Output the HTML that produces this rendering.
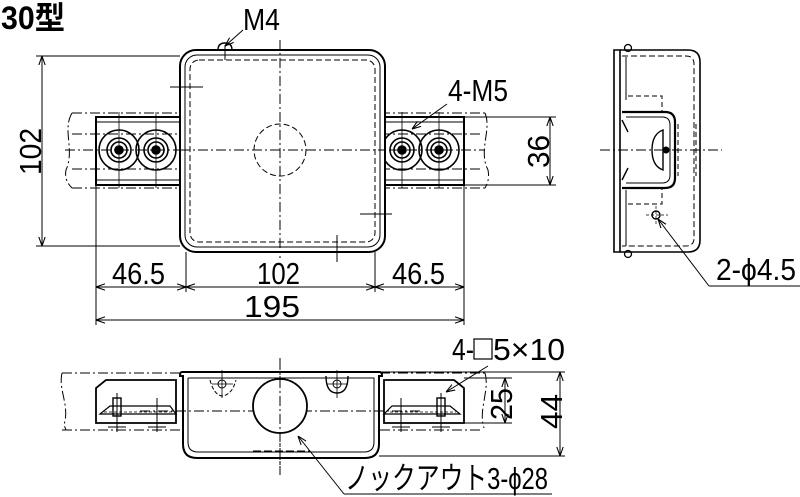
<!DOCTYPE html>
<html><head><meta charset="utf-8"><style>
html,body{margin:0;padding:0;background:#fff;}
svg{display:block}
text{font-family:"Liberation Sans","Noto Sans CJK JP",sans-serif;fill:#000}
</style></head><body>
<svg width="800" height="497" viewBox="0 0 800 497" xmlns="http://www.w3.org/2000/svg">
<defs>
<marker id="a" viewBox="0 0 10 10" refX="10" refY="5" markerWidth="9" markerHeight="9" orient="auto-start-reverse" markerUnits="userSpaceOnUse"><path d="M0,1.5 L10,5 L0,8.5" fill="none" stroke="#000" stroke-width="1.2"/></marker>
</defs>
<text x="1" y="29" font-size="32" font-weight="bold" textLength="64" lengthAdjust="spacingAndGlyphs">30型</text>

<g fill="none" stroke="#000">
<g stroke-width="1" stroke-dasharray="10,3,2,3">
<path d="M72,113 H180 M72,188 H180 M72,113 C62,130 75,150 66,170 C64,180 70,186 72,188"/>
<path d="M380,113 H485 M380,188 H485 M485,113 C492,130 478,150 488,170 C490,180 486,186 485,188"/>
<path d="M65,150 H485" />
<path d="M280,40 V258"/>
<path d="M72,134 H180 M72,169 H180 M380,134 H480 M380,169 H480"/>
</g>
<rect x="96" y="117" width="86" height="68" stroke-width="2"/>
<rect x="378" y="117" width="86" height="68" stroke-width="2"/>
<path d="M96,122 H180 M96,180 H180 M380,122 H464 M380,180 H464" stroke-width="1"/>
<g stroke-width="1.6">
<circle cx="119" cy="150" r="20"/><circle cx="119" cy="150" r="12"/><circle cx="119" cy="150" r="8"/><circle cx="119" cy="150" r="4" fill="#000"/>
<circle cx="156" cy="150" r="20"/><circle cx="156" cy="150" r="12"/><circle cx="156" cy="150" r="8"/><circle cx="156" cy="150" r="4" fill="#000"/>
<circle cx="402" cy="150" r="20"/><circle cx="402" cy="150" r="12"/><circle cx="402" cy="150" r="8"/><circle cx="402" cy="150" r="4" fill="#000"/>
<circle cx="439" cy="150" r="20"/><circle cx="439" cy="150" r="12"/><circle cx="439" cy="150" r="8"/><circle cx="439" cy="150" r="4" fill="#000"/>
</g>
<path d="M119,112 V188 M156,112 V188 M402,112 V188 M439,112 V188" stroke-width="0.8"/>
<rect x="180" y="50" width="205" height="202" rx="16" stroke-width="2" fill="#fff"/>
<rect x="185" y="55" width="195" height="192" rx="12" stroke-width="1"/>
<rect x="190" y="60" width="185" height="182" rx="9" stroke-width="1" stroke-dasharray="6,3"/>
<path d="M280,40 V258 M180,150 H385" stroke-width="1" stroke-dasharray="10,3,2,3"/>
<circle cx="280" cy="150" r="26" stroke-width="1" stroke-dasharray="6,3"/>
<path d="M170,87 H203 M360,214 H392 M337,235 V262 M225,45 V60" stroke-width="1"/>
<path d="M218,50 Q218,43 225,43 Q232,43 232,50" stroke-width="1.4"/>
<g stroke-width="1">
<path d="M36,56 H180 M36,246 H180"/>
<path d="M42,56 V246" marker-start="url(#a)" marker-end="url(#a)"/>
<path d="M464,117 H556 M464,185 H556"/>
<path d="M550,117 V185" marker-start="url(#a)" marker-end="url(#a)"/>
<path d="M96,185 V325 M186,252 V292 M375,252 V292 M464,185 V325"/>
<path d="M96,287 H186" marker-start="url(#a)" marker-end="url(#a)"/>
<path d="M186,287 H375" marker-start="url(#a)" marker-end="url(#a)"/>
<path d="M375,287 H464" marker-start="url(#a)" marker-end="url(#a)"/>
<path d="M96,320 H464" marker-start="url(#a)" marker-end="url(#a)"/>
<path d="M243,30 L225,46" marker-end="url(#a)"/>
<path d="M447,104 L412,129" marker-end="url(#a)"/>
</g>

<path d="M614,50 V252 H620 V50 Z" stroke-width="1.6"/>
<path d="M620,50 H688 Q700,50 700,62 V240 Q700,252 688,252 H620" stroke-width="1.6"/>
<path d="M622,56 H686 Q694,56 694,64 V238 Q694,246 686,246 H622" stroke-width="1" stroke-dasharray="6,3"/>
<path d="M626,57 V100 M626,190 V246" stroke-width="1"/>
<path d="M622,112 H665 Q675,112 675,122 V178 Q675,188 665,188 H622" stroke-width="2.2"/>
<path d="M626,117 H662 Q670,117 670,125 V175 Q670,183 662,183 H626" stroke-width="1"/>
<path d="M628,96 H662 V112 M628,204 H662 V188 M678,124 V176 M696,124 V176" stroke-width="1" stroke-dasharray="5,3"/>
<path d="M663,130 Q652,134 652,150 Q652,166 663,170 Z" stroke-width="1.4"/>
<circle cx="666" cy="150" r="3" fill="#000"/>
<path d="M622,120 L628,132 M622,180 L628,168" stroke-width="1.4"/>
<path d="M600,150 H722" stroke-width="1" stroke-dasharray="10,3,2,3"/>
<circle cx="656" cy="215" r="4" stroke-width="1.4"/>
<path d="M646,215 H668 M656,206 V224" stroke-width="0.7" stroke-dasharray="3,2"/>
<circle cx="628" cy="48" r="3.5" stroke-width="1.3"/><circle cx="628" cy="254" r="3.5" stroke-width="1.3"/>
<path d="M709,286 L658,219" stroke-width="1" marker-end="url(#a)"/>
<path d="M709,286 H800" stroke-width="1"/>

<g stroke-width="1" stroke-dasharray="10,3,2,3">
<path d="M62,373 H180 M380,373 H485 M62,430 H180 M380,430 H480"/>
<path d="M62,373 C58,390 70,405 64,425 L66,430"/>
<path d="M485,373 C490,390 478,410 484,428"/>
<path d="M140,411 H420"/>
<path d="M280,358 V475"/>
</g>
<path d="M96,423 V388 L106,380 H176 V423 Z" stroke-width="1.8"/>
<path d="M464,423 V388 L454,380 H384 V423 Z" stroke-width="1.8"/>
<path d="M100,414 L110,406 H170 L176,414 Z M384,414 L392,406 H450 L460,414 Z" stroke-width="1.2"/>
<path d="M104,412 H172 M390,412 H456" stroke-width="0.8" stroke-dasharray="3,2"/>
<rect x="113" y="398" width="8" height="18" stroke-width="1.4"/>
<rect x="437" y="398" width="8" height="18" stroke-width="1.4"/>
<path d="M117,393 V432 M157,398 V432 M401,398 V432 M441,393 V432 M108,427 H126 M148,427 H166 M392,427 H410 M432,427 H450" stroke-width="1"/>
<path d="M182,372 Q180,372 180,376 H183 V444 Q183,458 197,458 H365 Q379,458 379,444 V376 H382 Q382,372 380,372 Z" stroke-width="2"/>
<path d="M188,378 V442 Q188,452 198,452 H364 Q374,452 374,442 V378 H188" stroke-width="1"/>
<path d="M188,378 H374" stroke-width="1" stroke-dasharray="6,3"/>
<circle cx="280" cy="406" r="27" stroke-width="1.8" fill="#fff"/>
<path d="M280,360 V475" stroke-width="1" stroke-dasharray="10,3,2,3"/>
<path d="M326,376 Q326,393 337,393 Q348,393 348,376" stroke-width="1.4"/>
<circle cx="337" cy="384" r="4" stroke-width="1"/><circle cx="222" cy="384" r="4" stroke-width="1"/>
<path d="M210,380 Q214,395 222,396 Q232,395 236,380" stroke-width="1" stroke-dasharray="4,2"/>
<path d="M222,370 V398 M212,384 H233 M337,370 V398 M327,384 H348" stroke-width="0.8"/>
<path d="M253,451 H310" stroke-width="1" stroke-dasharray="8,3"/>
<g stroke-width="1">
<path d="M464,378 H512 M464,423 H512 M382,372 H565 M379,456 H565"/>
<path d="M505,378 V423" marker-start="url(#a)" marker-end="url(#a)"/>
<path d="M560,372 V456" marker-start="url(#a)" marker-end="url(#a)"/>
<path d="M488,366 L446,392" marker-end="url(#a)"/>
<path d="M344,494 L298,436" marker-end="url(#a)"/>
<path d="M344,494 H552"/>
</g>
</g>

<g font-size="31">
<text x="243" y="30" textLength="37" lengthAdjust="spacingAndGlyphs">M4</text>
<text x="448" y="101" textLength="60" lengthAdjust="spacingAndGlyphs">4-M5</text>
<text x="112" y="284" textLength="53" lengthAdjust="spacingAndGlyphs">46.5</text>
<text x="257" y="284" textLength="43" lengthAdjust="spacingAndGlyphs">102</text>
<text x="392" y="284" textLength="53" lengthAdjust="spacingAndGlyphs">46.5</text>
<text x="244" y="317" textLength="56" lengthAdjust="spacingAndGlyphs">195</text>
<text x="716" y="280" textLength="80" lengthAdjust="spacingAndGlyphs">2-ϕ4.5</text>
<text transform="translate(41,151) rotate(-90)" x="-24" textLength="47" lengthAdjust="spacingAndGlyphs">102</text>
<text transform="translate(549,151) rotate(-90)" x="-17" textLength="33" lengthAdjust="spacingAndGlyphs">36</text>
<text transform="translate(512,404) rotate(-90)" x="-16" textLength="32" lengthAdjust="spacingAndGlyphs">25</text>
<text transform="translate(562,412) rotate(-90)" x="-17" textLength="35" lengthAdjust="spacingAndGlyphs">44</text>
<text x="452" y="360" textLength="22" lengthAdjust="spacingAndGlyphs">4-</text>
<text x="493" y="360" textLength="72" lengthAdjust="spacingAndGlyphs">5×10</text>
<text x="345" y="489" textLength="203" lengthAdjust="spacingAndGlyphs">ノックアウト3-ϕ28</text>
</g>
<rect x="474" y="339" width="18" height="20" fill="none" stroke="#000" stroke-width="1.2"/>
</svg>
</body></html>
